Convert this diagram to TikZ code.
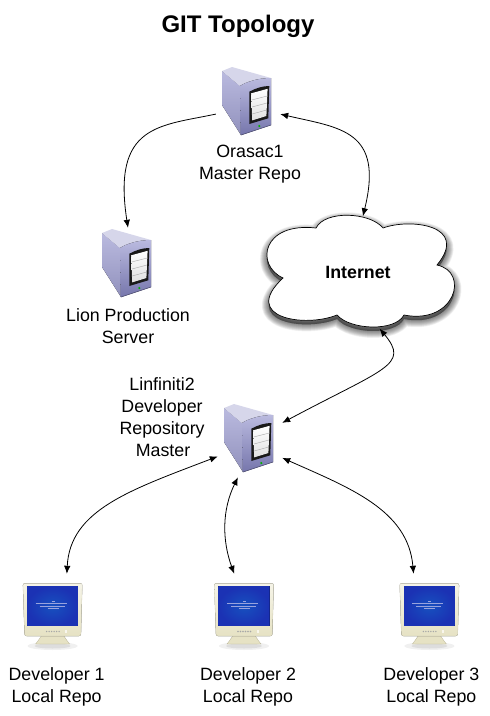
\documentclass[tikz,border=0pt]{standalone}
\usepackage{fontspec}
\setmainfont{Liberation Sans}
\usetikzlibrary{positioning,arrows.meta}

\definecolor{caseblue}{HTML}{BABADF}
\definecolor{casedark}{HTML}{7676AC}
\definecolor{casetop}{HTML}{D6D6EA}
\definecolor{crtbeige}{HTML}{E6E2C4}
\definecolor{crtedge}{HTML}{B8B498}
\definecolor{crtblue}{HTML}{1B32B4}

\newcommand{\serverart}{%
  \begin{scope}[shift={(path picture bounding box.center)}]
    \fill[top color=caseblue, bottom color=casedark!80] (-26,-32) -- (-8,-17) -- (-7,32) -- (-26,2) -- cycle;
    \fill[casetop] (-26,-32) -- (-16,-36) -- (23,-25) .. controls (10,-25) and (-2,-21) .. (-8,-17) -- cycle;
    \fill[top color=caseblue, bottom color=casedark] (-8,-17) .. controls (-2,-21) and (10,-25) .. (23,-25) -- (23,22) -- (-7,32) -- cycle;
    \fill[black!90] (1.3,-11.3) .. controls (8,-15) and (15,-17) .. (21.3,-17) -- (20.3,15.3) -- (1.3,21) -- cycle;
    \fill[top color=white, bottom color=black!12] (3.2,-9.7) -- (19.6,-14.2) -- (18.4,13) -- (4.2,17.4) -- cycle;
    \draw[black!35, line width=.4pt] (3.6,-3) -- (19.3,-7) (3.9,4) -- (19,0) (4.1,11) -- (18.6,7);
    \fill[green!70!black] (11.3,23) circle (1.2);
    \draw[casedark!70!black, line width=.6pt] (-7,32) -- (23,22);
  \end{scope}}

\newcommand{\monitorart}{%
  \begin{scope}[shift={(path picture bounding box.center)}]
    \fill[black, opacity=.06] (0,33) ellipse (25 and 4);
    \fill[black, opacity=.08] (0,33) ellipse (18 and 2.5);
    \fill[crtbeige, draw=crtedge, line width=.3pt] (-10,21) -- (10,21) -- (14,27) -- (17,31) -- (-17,31) -- (-14,27) -- cycle;
    \fill[top color=white!60!crtbeige, bottom color=crtbeige, draw=crtedge!70, line width=.3pt, rounded corners=2pt] (-29.7,-29.7) -- (29.7,-29.7) -- (28.3,23) -- (-28,23) -- cycle;
    \fill[crtblue!75!black] (-25.8,-26.8) rectangle (25.5,13.2);
    \shade[inner color=crtblue!85!cyan, outer color=crtblue] (-25.3,-26.3) rectangle (25,12.7);
    \draw[white!55!crtblue, line width=.4pt] (-1,-12) -- (2,-12) (-17,-9.5) -- (14,-9.5) (-13,-7) -- (12,-7) (-5,-4.5) -- (6,-4.5);
    \foreach \bx in {-6,-3.5,...,7}
      \fill[black!35] (\bx,18.5) circle (.8);
    \fill[white!70!crtbeige] (12.5,17) rectangle (14.5,20);
  \end{scope}}

\newcommand{\cloudpath}{(283,278) .. controls (255,265) and (262,222) .. (316,228)
  .. controls (325,210) and (370,212) .. (383,228)
  .. controls (410,218) and (470,225) .. (437,265)
  .. controls (470,272) and (455,325) .. (404,315)
  .. controls (395,332) and (350,330) .. (337,315)
  .. controls (305,328) and (240,318) .. (283,278) -- cycle}

\begin{document}
\begin{tikzpicture}[
    x = 1pt, y = -1pt,
    server/.style = {minimum width=64pt, minimum height=74pt, inner sep=0pt, path picture={\serverart}},
    monitor/.style = {minimum width=64pt, minimum height=78pt, inner sep=0pt, path picture={\monitorart}},
    lbl/.style = {align=center, inner sep=0pt, font=\fontsize{17.8}{22}\selectfont},
    > = {Latex[length=8pt,width=6.5pt]},
    link/.style = {line width=.8pt}
]
\useasboundingbox (0,0) rectangle (490,716);

% cloud with its soft shadow
\foreach \w in {14,13,...,1}
  \draw[black, opacity=.045, line width=\w pt, line join=round, fill=black, shift={(0,4)}] \cloudpath;
\draw[fill=white, line width=.7pt] \cloudpath;

\node (title) [font=\fontsize{24}{28}\selectfont\bfseries] at (238,26) {GIT Topology};
\node (orasac) [server] at (248,103) {};
\node (orasacinfo) [lbl, below=4.5pt of orasac, xshift=2pt] {Orasac1\\Master Repo};
\node (lion) [server] at (128,265) {};
\node (lioninfo) [lbl, below=6pt of lion] {Lion Production\\Server};
\node (internet) [minimum width=192pt, minimum height=112pt, inner sep=0pt, font=\fontsize{17.8}{22}\selectfont\bfseries, below=76pt of orasac, xshift=110pt] {Internet};
\node (linfiniti) [server] at (250,440) {};
\node (linfinitiinfo) [lbl, left=13pt of linfiniti, yshift=23pt] {Linfiniti2\\Developer\\Repository\\\hspace{2pt}Master};
\node (dev2) [monitor] at (244,613) {};
\node (dev1) [monitor, left=127pt of dev2] {};
\node (dev3) [monitor, right=121pt of dev2] {};
\node (dev1info) [lbl, below=15.5pt of dev1, xshift=4pt] {Developer 1\\Local Repo};
\node (dev2info) [lbl, below=15.5pt of dev2, xshift=4pt] {Developer 2\\Local Repo};
\node (dev3info) [lbl, below=15.5pt of dev3, xshift=2pt] {Developer 3\\Local Repo};

\draw[->, link] (orasac.199) .. controls (160,126) and (112,124) .. (lion.north);
\draw[<->, link] (orasac.341) .. controls (340,128) and (384,130) .. (internet.85);
\draw[<->, link] (internet.291) .. controls (410,365) and (385,368) .. (linfiniti.28);
\draw[<->, link] (linfiniti.207) .. controls (130,490) and (70,510) .. (dev1.70);
\draw[<->, link] (linfiniti.252) .. controls (222,510) and (222,540) .. (dev2.104);
\draw[<->, link] (linfiniti.331) .. controls (350,488) and (408,510) .. (dev3.112);
\end{tikzpicture}
\end{document}
